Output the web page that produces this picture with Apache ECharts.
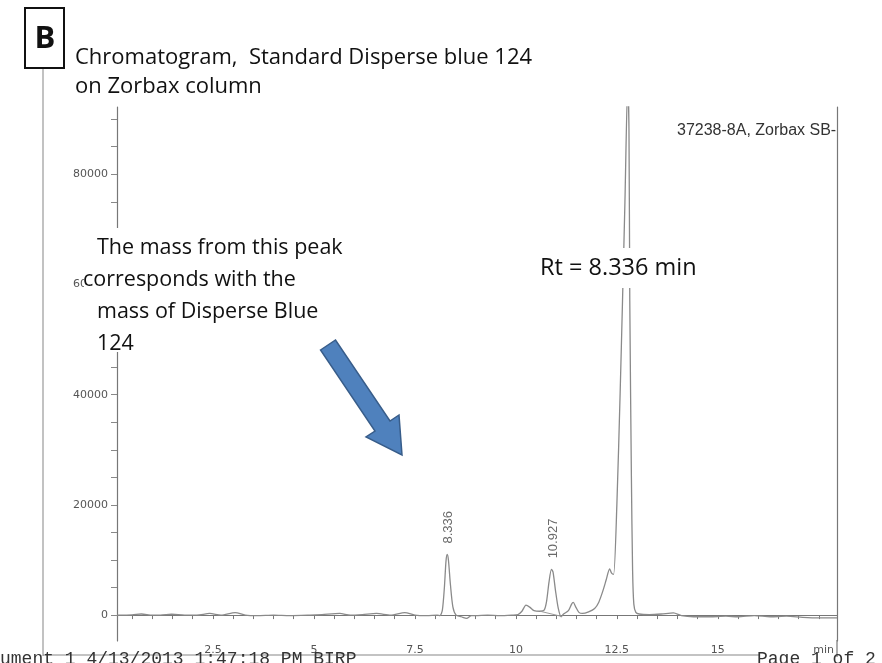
<!DOCTYPE html>
<html>
<head>
<meta charset="utf-8">
<script src="https://cdn.jsdelivr.net/npm/echarts@6/dist/echarts.min.js"></script>
<style>
  html, body { margin: 0; padding: 0; background: #fff; }
  #chart { width: 882px; height: 663px; }
</style>
</head>
<body>
<div id="chart"></div>
<script>
  // retention time (min) and detector signal
  var timeMin = [0.125, 0.5, 0.73, 1.0, 1.2, 1.48, 1.8, 2.1, 2.42, 2.7, 3.05, 3.3, 3.6, 4.0, 4.4, 4.9, 5.2, 5.64, 5.9, 6.2, 6.55, 6.9, 7.25, 7.5, 7.8, 8.05,
    8.12, 8.18, 8.23, 8.27, 8.30, 8.33, 8.38, 8.44, 8.52, 8.65, 8.78, 8.9,
    9.0, 9.3, 9.6, 9.9, 10.05, 10.15, 10.25, 10.35, 10.45, 10.6,
    10.7, 10.76, 10.82, 10.88, 10.92, 10.98, 11.05, 11.12, 11.18,
    11.3, 11.38, 11.42, 11.48, 11.56, 11.65, 11.8, 11.95, 12.05, 12.15, 12.24, 12.32, 12.37, 12.42,
    12.5, 12.58, 12.64, 12.7, 12.77, 12.8, 12.82, 12.86, 12.89, 12.92, 12.97, 13.05,
    13.3, 13.6, 13.9, 14.1, 14.4, 14.8, 15.2, 15.5, 15.9, 16.3, 16.7, 17.1, 17.5, 17.95]
  var signal = [0, 50, 200, 0, 0, 150, 0, 0, 300, 0, 450, 0, -100, 0, -100, 0, 100, 300, 0, 100, 300, 0, 450, 0, -100, 0,
    -100, 900, 5000, 9800, 11000, 10000, 5500, 1500, 0, -300, -600, -100,
    -100, 0, -100, 0, 100, 700, 1800, 1400, 800, 700,
    900, 2500, 6000, 8300, 7800, 4500, 1200, -300, 200,
    800, 2000, 2300, 1500, 500, 300, 600, 1200, 2300, 4300, 6500, 8400, 7600, 7400,
    20000, 40000, 57000, 75000, 97000, 88000, 57000, 25000, 8000, 2000, 500, 200,
    100, 200, 400, -100, -300, -300, -200, -300, -100, -300, -200, -400, -500, -500]
  // integration baseline drawn under the 10.927 peak
  var dropLine = [[10.6, 700], [11.14, -250]]
  // labelled peaks
  var peakLabels = [[8.336, 11000, '8.336'], [10.927, 8300, '10.927']]
  var xLabelValues = [2.5, 5, 7.5, 10, 12.5, 15]
  var yLabelValues = [0, 20000, 40000, 60000, 80000]

  var xTicks = []
  for (var t = 0.5; t <= 17.5; t += 0.5) xTicks.push(t)
  var yTicks = []
  for (var v = 0; v <= 90000; v += 5000) yTicks.push(v)

  var curve = timeMin.map(function (t, i) { return [t, signal[i]] })

  var grey = '#8a8a8a'
  var chart = echarts.init(document.getElementById('chart'))
  chart.setOption({
    backgroundColor: '#fff',
    animation: false,
    grid: { left: 117, right: 45, top: 107, bottom: 22 },
    xAxis: {
      type: 'value',
      min: 0.125,
      max: 17.95,
      splitLine: { show: false },
      axisLine: { lineStyle: { color: '#777', width: 1.2 } },
      axisTick: { customValues: xTicks, length: 4, lineStyle: { color: '#777' } },
      axisLabel: {
        customValues: xLabelValues,
        margin: 4,
        color: '#555',
        fontSize: 11,
        fontFamily: 'DejaVu Sans',
        formatter: function (val) { return String(val) }
      }
    },
    yAxis: [{
      type: 'value',
      min: -4700,
      max: 92200,
      splitLine: { show: false },
      axisLine: { show: true, lineStyle: { color: '#777', width: 1.2 } },
      axisTick: { customValues: yTicks, length: 6, lineStyle: { color: '#888' } },
      axisLabel: {
        customValues: yLabelValues,
        margin: 9,
        color: '#555',
        fontSize: 11,
        fontFamily: 'DejaVu Sans',
        formatter: function (val) { return String(val) }
      }
    }, {
      type: 'value',
      position: 'right',
      min: -4700,
      max: 92200,
      splitLine: { show: false },
      axisLine: { show: true, lineStyle: { color: '#777', width: 1.2 } },
      axisTick: { show: false },
      axisLabel: { show: false }
    }],
    series: [{
      type: 'line',
      data: curve,
      symbol: 'none',
      smooth: 0.25,
      clip: true,
      lineStyle: { color: grey, width: 1.3 }
    }, {
      type: 'line',
      data: dropLine,
      symbol: 'none',
      lineStyle: { color: '#999', width: 1 }
    }, {
      type: 'scatter',
      symbolSize: 0,
      data: peakLabels,
      label: {
        show: true,
        position: 'top',
        distance: 11,
        rotate: 90,
        align: 'left',
        verticalAlign: 'middle',
        formatter: function (p) { return p.data[2] },
        color: '#444',
        fontSize: 13,
        fontFamily: 'Liberation Sans'
      }
    }],
    graphic: [
      // scanned page frame
      { type: 'line', shape: { x1: 43, y1: 68, x2: 43, y2: 656 }, style: { stroke: '#999', lineWidth: 1.2 }, z: 1 },
      { type: 'line', shape: { x1: 43, y1: 655, x2: 760, y2: 655 }, style: { stroke: '#888', lineWidth: 1.2 }, z: 1 },
      { type: 'line', shape: { x1: 837, y1: 640, x2: 837, y2: 657 }, style: { stroke: '#777', lineWidth: 1.2 }, z: 1 },
      { type: 'text', x: 0, y: 650, z: 5, style: { text: 'ument 1 4/13/2013 1:47:18 PM BIRP', fontSize: 18, fontFamily: 'Liberation Mono', fill: '#333' } },
      { type: 'text', x: 757, y: 650, z: 5, style: { text: 'Page 1 of 2', fontSize: 18, fontFamily: 'Liberation Mono', fill: '#333' } },
      { type: 'text', x: 834, y: 650, z: 5, style: { text: 'min', fontSize: 11, fontFamily: 'DejaVu Sans', fill: '#555', align: 'right', verticalAlign: 'middle' } },
      { type: 'text', x: 677, y: 131, z: 5, style: { text: '37238-8A, Zorbax SB-', fontSize: 16, fontFamily: 'Liberation Sans', fill: '#333', verticalAlign: 'middle' } },
      // panel letter
      { type: 'rect', shape: { x: 25, y: 8, width: 39, height: 60 }, style: { fill: '#fff', stroke: '#111', lineWidth: 2 }, z: 10 },
      { type: 'text', x: 45, y: 39, z: 11, style: { text: 'B', fontSize: 31, fontWeight: 'bold', fontFamily: 'Open Sans', fill: '#111', align: 'center', verticalAlign: 'middle' } },
      // title
      { type: 'text', x: 75, y: 58, z: 11, style: { text: 'Chromatogram,  Standard Disperse blue 124', fontSize: 22, fontFamily: 'Open Sans', fill: '#111', verticalAlign: 'middle' } },
      { type: 'text', x: 75, y: 87, z: 11, style: { text: 'on Zorbax column', fontSize: 22, fontFamily: 'Open Sans', fill: '#111', verticalAlign: 'middle' } },
      // annotation box
      { type: 'rect', shape: { x: 84, y: 228, width: 263, height: 124 }, style: { fill: '#fff' }, z: 10 },
      { type: 'text', x: 97, y: 248, z: 11, style: { text: 'The mass from this peak', fontSize: 21.5, fontFamily: 'Open Sans', fill: '#111', verticalAlign: 'middle' } },
      { type: 'text', x: 83, y: 280, z: 11, style: { text: 'corresponds with the', fontSize: 21.5, fontFamily: 'Open Sans', fill: '#111', verticalAlign: 'middle' } },
      { type: 'text', x: 97, y: 312, z: 11, style: { text: 'mass of Disperse Blue', fontSize: 21.5, fontFamily: 'Open Sans', fill: '#111', verticalAlign: 'middle' } },
      { type: 'text', x: 97, y: 344, z: 11, style: { text: '124', fontSize: 21.5, fontFamily: 'Open Sans', fill: '#111', verticalAlign: 'middle' } },
      { type: 'rect', shape: { x: 532, y: 248, width: 176, height: 40 }, style: { fill: '#fff' }, z: 10 },
      { type: 'text', x: 540, y: 268, z: 11, style: { text: 'Rt = 8.336 min', fontSize: 23.5, fontFamily: 'Open Sans', fill: '#111', verticalAlign: 'middle' } },
      // blue arrow
      {
        type: 'polygon', z: 12,
        shape: { points: [[320.5, 350], [335.5, 340], [390, 421], [399, 415], [402, 455], [366, 437], [375, 431]] },
        style: { fill: '#4f81bd', stroke: '#385d8a', lineWidth: 1.5 }
      }
    ]
  })
</script>
</body>
</html>
